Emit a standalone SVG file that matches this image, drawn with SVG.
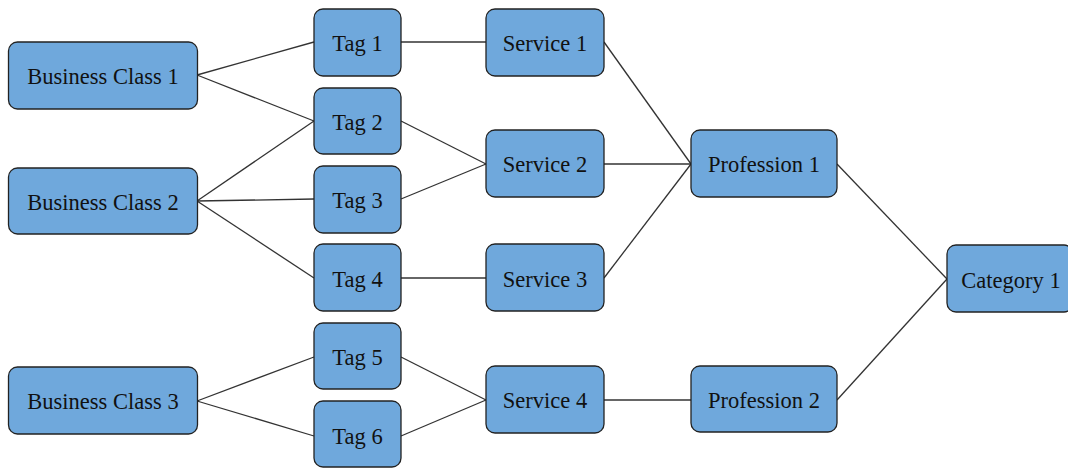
<svg xmlns="http://www.w3.org/2000/svg" width="1068" height="468" viewBox="0 0 1068 468">
  <style>
    .box { fill: #6fa8dc; stroke: #222; stroke-width: 1.3; }
    .lbl { font-family: "Liberation Serif", "Times New Roman", serif; font-size: 22.5px; fill: #111; text-anchor: middle; dominant-baseline: central; }
    .conn line { stroke: #333; stroke-width: 1.3; }
  </style>
  <rect width="1068" height="468" fill="#ffffff"/>

  <g class="conn" id="connectors">
    <line x1="197" y1="75" x2="314" y2="42"/>
    <line x1="197" y1="75" x2="314" y2="121"/>
    <line x1="197" y1="201" x2="314" y2="121"/>
    <line x1="197" y1="201" x2="314" y2="199"/>
    <line x1="197" y1="201" x2="314" y2="278"/>
    <line x1="197" y1="401" x2="314" y2="357"/>
    <line x1="197" y1="401" x2="314" y2="436"/>
    <line x1="401" y1="42" x2="486" y2="42"/>
    <line x1="401" y1="121" x2="486" y2="164"/>
    <line x1="401" y1="199" x2="486" y2="164"/>
    <line x1="401" y1="278" x2="486" y2="278"/>
    <line x1="401" y1="357" x2="486" y2="400"/>
    <line x1="401" y1="436" x2="486" y2="400"/>
    <line x1="604" y1="42" x2="691" y2="164"/>
    <line x1="604" y1="164" x2="691" y2="164"/>
    <line x1="604" y1="278" x2="691" y2="164"/>
    <line x1="604" y1="400" x2="691" y2="400"/>
    <line x1="837" y1="164" x2="947" y2="279"/>
    <line x1="837" y1="400" x2="947" y2="279"/>
  </g>

  <g id="bc1"><rect class="box" x="8.5" y="42" width="189" height="67" rx="9"/><text class="lbl" x="103" y="76">Business Class 1</text></g>
  <g id="bc2"><rect class="box" x="8.5" y="168" width="189" height="66" rx="9"/><text class="lbl" x="103" y="202">Business Class 2</text></g>
  <g id="bc3"><rect class="box" x="8.5" y="367" width="189" height="67" rx="9"/><text class="lbl" x="103" y="401">Business Class 3</text></g>

  <g id="tag1"><rect class="box" x="314" y="9" width="87" height="67" rx="9"/><text class="lbl" x="357.5" y="43">Tag 1</text></g>
  <g id="tag2"><rect class="box" x="314" y="88" width="87" height="66" rx="9"/><text class="lbl" x="357.5" y="122">Tag 2</text></g>
  <g id="tag3"><rect class="box" x="314" y="166" width="87" height="67" rx="9"/><text class="lbl" x="357.5" y="200">Tag 3</text></g>
  <g id="tag4"><rect class="box" x="314" y="244" width="87" height="67" rx="9"/><text class="lbl" x="357.5" y="279">Tag 4</text></g>
  <g id="tag5"><rect class="box" x="314" y="323" width="87" height="66" rx="9"/><text class="lbl" x="357.5" y="357">Tag 5</text></g>
  <g id="tag6"><rect class="box" x="314" y="401" width="87" height="66" rx="9"/><text class="lbl" x="357.5" y="436">Tag 6</text></g>

  <g id="svc1"><rect class="box" x="486" y="9" width="118" height="67" rx="9"/><text class="lbl" x="545" y="43">Service 1</text></g>
  <g id="svc2"><rect class="box" x="486" y="130" width="118" height="67" rx="9"/><text class="lbl" x="545" y="164">Service 2</text></g>
  <g id="svc3"><rect class="box" x="486" y="244" width="118" height="67" rx="9"/><text class="lbl" x="545" y="279">Service 3</text></g>
  <g id="svc4"><rect class="box" x="486" y="366" width="118" height="67" rx="9"/><text class="lbl" x="545" y="400">Service 4</text></g>

  <g id="prof1"><rect class="box" x="691" y="130" width="146" height="67" rx="9"/><text class="lbl" x="764" y="164">Profession 1</text></g>
  <g id="prof2"><rect class="box" x="691" y="366" width="146" height="66" rx="9"/><text class="lbl" x="764" y="400">Profession 2</text></g>

  <g id="cat1"><rect class="box" x="947" y="245" width="126" height="67" rx="9"/><text class="lbl" x="1011" y="280">Category 1</text></g>
</svg>
